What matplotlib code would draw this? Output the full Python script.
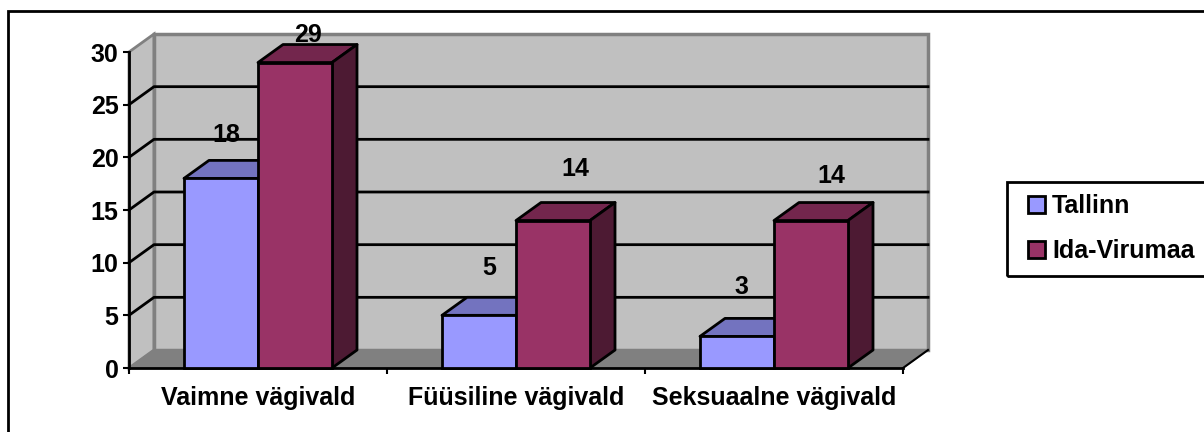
import numpy as np
import matplotlib
matplotlib.use('Agg')
import matplotlib.pyplot as plt
from matplotlib.patches import Polygon, Rectangle

categories = ['Vaimne vägivald', 'Füüsiline vägivald', 'Seksuaalne vägivald']
series_names = ['Tallinn', 'Ida-Virumaa']
tallinn = [18, 5, 3]
ida_virumaa = [29, 14, 14]
y_ticks = [0, 5, 10, 15, 20, 25, 30]

front_colors = ['#9999FF', '#993366']
top_colors = ['#7373BF', '#73264D']
side_colors = ['#4D4D80', '#4D1A33']

plt.rcParams['font.family'] = ['Liberation Sans', 'DejaVu Sans']
plt.rcParams['font.weight'] = 'bold'
plt.rcParams['font.size'] = 18

W, H = 1204, 432
fig = plt.figure(figsize=(W / 100, H / 100), dpi=100)
ax = fig.add_axes([129 / W, 1 - 368 / H, 774 / W, 316 / H])
ax.set_xlim(0, 3)
ax.set_ylim(0, 30)
ax.patch.set_visible(False)

# pseudo 3d depth, pixels turned into data units
dx = 25 / 258
dy = 18 / (316 / 30)
bar_w = 74 / 258
xmax, ymax = 3, 30

# walls and floor
ax.add_patch(Polygon([(0, 0), (dx, dy), (dx, ymax + dy), (0, ymax)], fc='#C0C0C0', ec='#808080', lw=2, zorder=1, clip_on=False))
ax.add_patch(Polygon([(dx, dy), (xmax + dx, dy), (xmax + dx, ymax + dy), (dx, ymax + dy)], fc='#C0C0C0', ec='#808080', lw=2.5, zorder=1, clip_on=False))
ax.add_patch(Polygon([(0, 0), (xmax, 0), (xmax + dx, dy), (dx, dy)], fc='#808080', ec='#808080', lw=1, zorder=1, clip_on=False))
ax.plot([xmax, xmax + dx], [0, dy], color='black', lw=1.5, zorder=2, clip_on=False)

for t in y_ticks[1:-1]:
    ax.plot([0, dx, xmax + dx], [t, t + dy, t + dy], color='black', lw=2, zorder=2, clip_on=False)

x = np.arange(len(categories)) + 0.5
for i, vals in enumerate([tallinn, ida_virumaa]):
    left = x - bar_w + i * bar_w
    ax.bar(left, vals, bar_w, align='edge', color=front_colors[i], edgecolor='black', linewidth=2, zorder=4 + i, clip_on=False, label=series_names[i])
    for l, v in zip(left, vals):
        r = l + bar_w
        ax.add_patch(Polygon([(l, v), (l + dx, v + dy), (r + dx, v + dy), (r, v)], fc=top_colors[i], ec='black', lw=2, zorder=3 + i, clip_on=False, joinstyle='round'))
        ax.add_patch(Polygon([(r, 0), (r + dx, dy), (r + dx, v + dy), (r, v)], fc=side_colors[i], ec='black', lw=2, zorder=3 + i, clip_on=False, joinstyle='round'))

# data labels sit at odd offsets in the original, given in pixels from the bar top centre
label_offsets = [[(5, 43), (13, 28)], [(10, 47), (22, 52)], [(4, 49), (20, 45)]]
for g in range(3):
    for i, vals in enumerate([tallinn, ida_virumaa]):
        cx = x[g] - bar_w + (i + 0.5) * bar_w
        ax.annotate(str(vals[g]), (cx, vals[g]), xytext=label_offsets[g][i], textcoords='offset pixels',
                    ha='center', va='center', zorder=8, annotation_clip=False)

ax.set_yticks(y_ticks)
ax.set_xticks([0, 1, 2, 3])
ax.set_xticklabels([])
ax.set_xticks(x, categories, minor=True)
ax.tick_params(axis='y', length=4.5, width=1.5, pad=3)
ax.tick_params(axis='x', which='major', length=4.5, width=1.5)
ax.tick_params(axis='x', which='minor', length=0, pad=13)
for s in ['top', 'right']:
    ax.spines[s].set_visible(False)
for s in ['left', 'bottom']:
    ax.spines[s].set_linewidth(2)
    ax.spines[s].set_zorder(3)

# outer chart frame, runs off the bottom and right of the picture
fig.add_artist(Rectangle((8 / W, -0.2), 1300 / W, 1.2 - 11 / H, transform=fig.transFigure, fill=False, ec='black', lw=2))

# legend box also runs off the right edge, so it is drawn apart from the entries
fig.add_artist(Rectangle((1007 / W, 1 - 276 / H), 300 / W, 94 / H, transform=fig.transFigure, fill=False, ec='black', lw=2))
handles, labels = ax.get_legend_handles_labels()
fig.legend(handles, labels, loc='upper left', bbox_to_anchor=(1028 / W, 1 - 194 / H), borderaxespad=0, borderpad=0,
           frameon=False, handlelength=0.68, handleheight=0.68, handletextpad=0.28, labelspacing=0.85, fontsize=18)

fig.savefig('out.png', dpi=100)
